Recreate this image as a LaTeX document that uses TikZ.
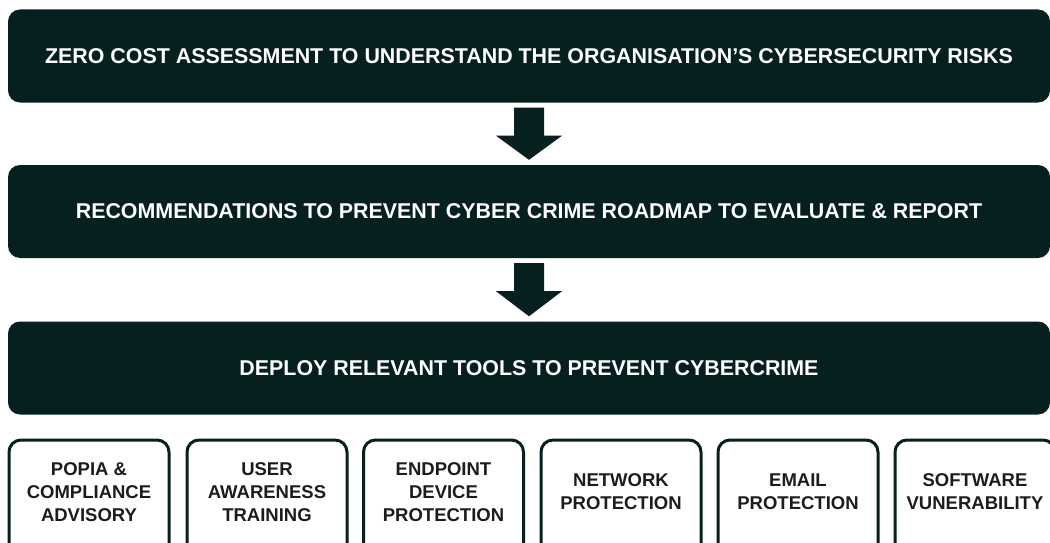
\documentclass[tikz,border=0pt]{standalone}
\usepackage{fontspec}
\setmainfont{Liberation Sans}
\usetikzlibrary{calc}
\definecolor{ink}{HTML}{05201F}
\definecolor{toolink}{HTML}{1C1C1C}
\begin{document}
\begin{tikzpicture}[x=1pt,y=-1pt,
  stage/.style={fill=ink, rounded corners=12pt, minimum width=1042pt, minimum height=93pt,
    inner sep=0pt, text=white, font=\bfseries\fontsize{21.4}{25}\selectfont},
  toolbox/.style={draw=ink, line width=3pt, rounded corners=12pt, minimum width=160pt,
    minimum height=120pt, inner sep=0pt},
  tooltext/.style={align=center, text=toolink, inner sep=0pt,
    font=\bfseries\fontsize{18.5}{23}\selectfont},
  blockarrow/.style={fill=ink}]
\useasboundingbox (0,0) rectangle (1050,543);
\clip (0,0) rectangle (1050,543);

% main process stages
\node[stage] (s1) at (529,56) {ZERO COST ASSESSMENT TO UNDERSTAND THE ORGANISATION’S CYBERSECURITY RISKS};
\node[stage] (s2) at (529,211.5) {RECOMMENDATIONS TO PREVENT CYBER CRIME ROADMAP TO EVALUATE \& REPORT};
\node[stage] (s3) at (529,368) {DEPLOY RELEVANT TOOLS TO PREVENT CYBERCRIME};

% block arrows between stages
\foreach \a/\b in {s1/s2, s2/s3}{
  \fill[blockarrow]
    ($(\a.south)+(-15,5)$) -- ($(\a.south)+(15,5)$) -- ($(\a.south)+(15,33)$)
    -- ($(\a.south)+(33,33)$) -- ($(\b.north)+(0,-5)$) -- ($(\a.south)+(-33,33)$)
    -- ($(\a.south)+(-15,33)$) -- cycle;
}

% tool boxes
\node[toolbox] (t1) at (89,500) {};
\node[toolbox] (t2) at (267,500) {};
\node[toolbox] (t3) at (443.5,500) {};
\node[toolbox] (t4) at (621,500) {};
\node[toolbox] (t5) at (798,500) {};
\node[toolbox] (t6) at (975,500) {};

\node[tooltext] (l1) at ([yshift=8pt]t1.center) {POPIA \&\\COMPLIANCE\\ADVISORY};
\node[tooltext] (l2) at ([yshift=8pt]t2.center) {USER\\AWARENESS\\TRAINING};
\node[tooltext] (l3) at ([yshift=8pt]t3.center) {ENDPOINT\\DEVICE\\PROTECTION};
\node[tooltext] (l4) at ([yshift=8pt]t4.center) {NETWORK\\PROTECTION};
\node[tooltext] (l5) at ([yshift=8pt]t5.center) {EMAIL\\PROTECTION};
\node[tooltext] (l6) at ([yshift=8pt]t6.center) {SOFTWARE\\VUNERABILITY};
\end{tikzpicture}
\end{document}
